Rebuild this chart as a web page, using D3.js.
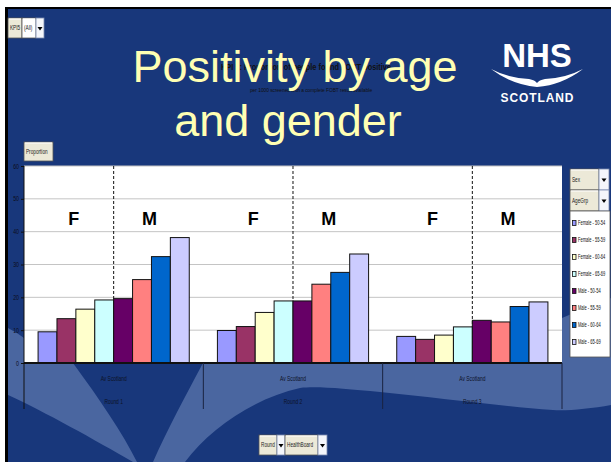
<!DOCTYPE html>
<html>
<head>
<meta charset="utf-8">
<script src="https://cdn.jsdelivr.net/npm/d3@7"></script>
<style>
html, body { margin: 0; padding: 0; background: #fff; overflow: hidden; }
svg { display: block; }
</style>
</head>
<body>
<svg id="chart"></svg>
<script>
// Slide: KPI 5 positivity by age and gender, three screening rounds

const W = 611, H = 462;
const NAVY = "#18377b";
const SWOOSH = "#4a66a0";
const FONT = "Arial, 'Liberation Sans', sans-serif";

const rounds = ["Round 1", "Round 2", "Round 3"];
const areaLabel = "Av Scotland";
const ageGroups = ["Female - 50-54", "Female - 55-59", "Female - 60-64", "Female - 65-69",
                   "Male - 50-54", "Male - 55-59", "Male - 60-64", "Male - 65-69"];
const round1 = [9.5, 13.5, 16.4, 19.2, 19.6, 25.4, 32.4, 38.2];
const round2 = [9.9, 11.1, 15.4, 18.9, 18.9, 24.0, 27.6, 33.2];
const round3 = [8.1, 7.2, 8.5, 11.0, 13.0, 12.5, 17.2, 18.6];
const yTicks = [0, 10, 20, 30, 40, 50, 60];
const sexLabels = ["F", "M"];

const barColors = ["#9999ff", "#993366", "#ffffcc", "#ccffff",
                   "#660066", "#ff8080", "#0066cc", "#ccccff"];

const seriesByRound = [round1, round2, round3];

const svg = d3.select("#chart").attr("width", W).attr("height", H);

// squeeze text horizontally (the original uses a condensed face)
function narrow(sel, f) {
    sel.each(function () {
        const len = this.getComputedTextLength();
        if (len > 0) {
            this.setAttribute("textLength", len * f);
            this.setAttribute("lengthAdjust", "spacingAndGlyphs");
        }
    });
}

// Slide background + frame
svg.append("rect").attr("x", 5).attr("y", 7).attr("width", W).attr("height", H).attr("fill", "#000");
svg.append("rect").attr("x", 8).attr("y", 9).attr("width", W).attr("height", H).attr("fill", NAVY);

// Decorative light swoosh
svg.append("path")
    .attr("fill", SWOOSH)
    .attr("d", "M8,328 Q16,332 24,338 L24,300 L562,300 L562,318 Q590,306 611,298 L611,405 " +
               "C590,409 565,411 553,410 C500,406 440,398 380,392 C345,389 318,386 300,388 " +
               "C255,398 210,428 185,462 L153,462 C168,428 186,395 203,363 L203,350 L73,350 L73,363 " +
               "C100,400 122,432 137,462 L133,462 C95,440 45,412 8,395 Z");

// Chart title hidden behind the slide title
svg.append("text")
    .attr("x", 306).attr("y", 70)
    .attr("text-anchor", "middle")
    .attr("font-family", FONT).attr("font-size", "9px").attr("font-weight", "bold")
    .attr("fill", "#111")
    .text("KPI 5: Proportion of people found FOBT positive")
    .call(narrow, 0.82);
svg.append("text")
    .attr("x", 311).attr("y", 92)
    .attr("text-anchor", "middle")
    .attr("font-family", FONT).attr("font-size", "6px")
    .attr("fill", "#111")
    .text("per 1000 screened with a complete FOBT result available")
    .call(narrow, 0.8);

// Slide title
const title = svg.append("g")
    .attr("font-family", FONT)
    .attr("font-size", "45px")
    .attr("fill", "#ffffb3")
    .attr("text-anchor", "middle");
title.append("text").attr("x", 295).attr("y", 82).text("Positivity by age");
title.append("text").attr("x", 288).attr("y", 136).text("and gender");

// NHS Scotland logo
const logo = svg.append("g").attr("fill", "#fff").attr("font-family", FONT).attr("font-weight", "bold");
logo.append("text").attr("x", 537).attr("y", 67).attr("text-anchor", "middle")
    .attr("font-size", "33px").text("NHS");
logo.append("path")
    .attr("d", "M491,69 Q512,85 537,87 Q562,85 583,69 Q566,78 545,79 Q539,80 537,83 Q535,80 529,79 Q508,78 491,69 Z");
logo.append("text").attr("x", 537).attr("y", 102).attr("text-anchor", "middle")
    .attr("font-size", "12px").attr("textLength", 73).attr("lengthAdjust", "spacing")
    .text("SCOTLAND");

// Pivot-style field buttons
function fieldButton(x, y, w, h, label, opts = {}) {
    const g = svg.append("g");
    g.append("rect").attr("x", x).attr("y", y).attr("width", w).attr("height", h)
        .attr("fill", opts.fill || "#ece9d8").attr("stroke", "#555").attr("stroke-width", 0.8);
    g.append("line").attr("x1", x + 1).attr("y1", y + 1).attr("x2", x + w - 1).attr("y2", y + 1)
        .attr("stroke", "#fff").attr("stroke-width", 1);
    g.append("text").attr("x", x + 2).attr("y", y + h / 2 + 2.2)
        .attr("font-family", FONT).attr("font-size", "6.5px").attr("fill", "#222")
        .text(label).call(narrow, 0.72);
    if (opts.arrow) {
        const ax = x + w, aw = opts.arrow;
        g.append("rect").attr("x", ax).attr("y", y).attr("width", aw).attr("height", h)
            .attr("fill", "#f4f6fb").attr("stroke", "#7a8bb0").attr("stroke-width", 0.8);
        const cx = ax + aw / 2, cy = y + h / 2;
        g.append("path").attr("d", `M${cx - 2.5},${cy - 1} L${cx + 2.5},${cy - 1} L${cx},${cy + 2.5} Z`)
            .attr("fill", "#000");
    }
}

fieldButton(8, 18, 14, 20, "KPI5");
fieldButton(22, 18, 14, 20, "(All)", { fill: "#fff", arrow: 8 });
fieldButton(24, 142, 29, 19, "Proportion");
fieldButton(259, 435, 18, 20, "Round", { arrow: 8 });
fieldButton(285, 435, 33, 20, "HealthBoard", { arrow: 9 });

// Plot area
const plot = { left: 24, right: 562, top: 166, bottom: 363, band: 409 };

const x0 = d3.scaleBand().domain(rounds).range([plot.left, plot.right]);
const x1 = d3.scaleBand().domain(ageGroups).range([0, x0.bandwidth()])
    .paddingInner(0).paddingOuter(0.745);
const y = d3.scaleLinear().domain([0, 60]).range([plot.bottom, plot.top]);

svg.append("rect")
    .attr("x", plot.left).attr("y", plot.top)
    .attr("width", plot.right - plot.left).attr("height", plot.bottom - plot.top)
    .attr("fill", "#fff");

// gridlines
svg.append("g")
    .selectAll("line")
    .data(yTicks.slice(1))
    .join("line")
    .attr("x1", plot.left).attr("x2", plot.right)
    .attr("y1", d => y(d)).attr("y2", d => y(d))
    .attr("stroke", "#c4c4c4").attr("stroke-width", 1);

// y axis
const yAxis = svg.append("g")
    .attr("transform", `translate(${plot.left},0)`)
    .call(d3.axisLeft(y).tickValues(yTicks).tickSize(3).tickPadding(2));
yAxis.select(".domain").remove();
yAxis.selectAll(".tick line").attr("stroke", "#111");
yAxis.selectAll(".tick text")
    .attr("font-family", FONT).attr("font-size", "6.5px").attr("fill", "#0d0d1a")
    .call(narrow, 0.8);

const groups = svg.append("g")
    .selectAll("g")
    .data(rounds)
    .join("g")
    .attr("transform", d => `translate(${x0(d)},0)`);

// dashed F / M dividers
groups.append("line")
    .attr("x1", x0.bandwidth() / 2).attr("x2", x0.bandwidth() / 2)
    .attr("y1", plot.top).attr("y2", plot.bottom)
    .attr("stroke", "#111").attr("stroke-width", 1).attr("stroke-dasharray", "3,2");

// bars
groups.selectAll("rect")
    .data((d, i) => seriesByRound[i].map((v, j) => ({ key: ageGroups[j], value: v, color: barColors[j] })))
    .join("rect")
    .attr("x", d => x1(d.key))
    .attr("y", d => y(d.value))
    .attr("width", x1.bandwidth())
    .attr("height", d => y(0) - y(d.value))
    .attr("fill", d => d.color)
    .attr("stroke", "#111").attr("stroke-width", 1);

// F / M labels
groups.selectAll("text.sex")
    .data(sexLabels)
    .join("text")
    .attr("class", "sex")
    .attr("x", (d, i) => {
        const first = x1(ageGroups[i * 4]);
        const last = x1(ageGroups[i * 4 + 3]) + x1.bandwidth();
        return (first + last) / 2 - 2;
    })
    .attr("y", y(42))
    .attr("text-anchor", "middle")
    .attr("font-family", FONT).attr("font-size", "18px").attr("font-weight", "bold")
    .attr("fill", "#000")
    .text(d => d);

// baseline + left axis line
svg.append("line")
    .attr("x1", plot.left).attr("x2", plot.right)
    .attr("y1", y(0)).attr("y2", y(0))
    .attr("stroke", "#111").attr("stroke-width", 2);
svg.append("line")
    .attr("x1", plot.left).attr("x2", plot.left)
    .attr("y1", plot.top).attr("y2", plot.band)
    .attr("stroke", "#111").attr("stroke-width", 1);

// category band separators and labels
svg.append("g")
    .selectAll("line")
    .data(rounds)
    .join("line")
    .attr("x1", d => x0(d) + x0.bandwidth()).attr("x2", d => x0(d) + x0.bandwidth())
    .attr("y1", plot.bottom).attr("y2", plot.band)
    .attr("stroke", "#1a2340").attr("stroke-width", 1);

groups.append("text")
    .attr("x", x0.bandwidth() / 2).attr("y", 381)
    .attr("text-anchor", "middle")
    .attr("font-family", FONT).attr("font-size", "7px").attr("fill", "#0d1226")
    .text(areaLabel)
    .call(narrow, 0.7);
groups.append("text")
    .attr("x", x0.bandwidth() / 2).attr("y", 404)
    .attr("text-anchor", "middle")
    .attr("font-family", FONT).attr("font-size", "7px").attr("fill", "#0d1226")
    .text(d => d)
    .call(narrow, 0.7);

// Legend with page fields
fieldButton(570, 169, 29, 21, "Sex", { arrow: 10 });
fieldButton(570, 190, 29, 21, "AgeGrp", { arrow: 10 });

svg.append("rect")
    .attr("x", 570).attr("y", 211).attr("width", 40).attr("height", 146)
    .attr("fill", "#fff").attr("stroke", "#555").attr("stroke-width", 0.8);

const legendY = d3.scalePoint().domain(ageGroups).range([223, 342]);
const legend = svg.append("g")
    .selectAll("g")
    .data(ageGroups)
    .join("g")
    .attr("transform", d => `translate(572,${legendY(d)})`);
legend.append("rect")
    .attr("x", 0.5).attr("y", -2.5).attr("width", 3.5).attr("height", 5)
    .attr("fill", (d, i) => barColors[i]).attr("stroke", "#111").attr("stroke-width", 0.8);
legend.append("text")
    .attr("x", 6).attr("y", 2.3)
    .attr("font-family", FONT).attr("font-size", "6.5px").attr("fill", "#111")
    .text(d => d)
    .call(narrow, 0.62);
</script>
</body>
</html>
